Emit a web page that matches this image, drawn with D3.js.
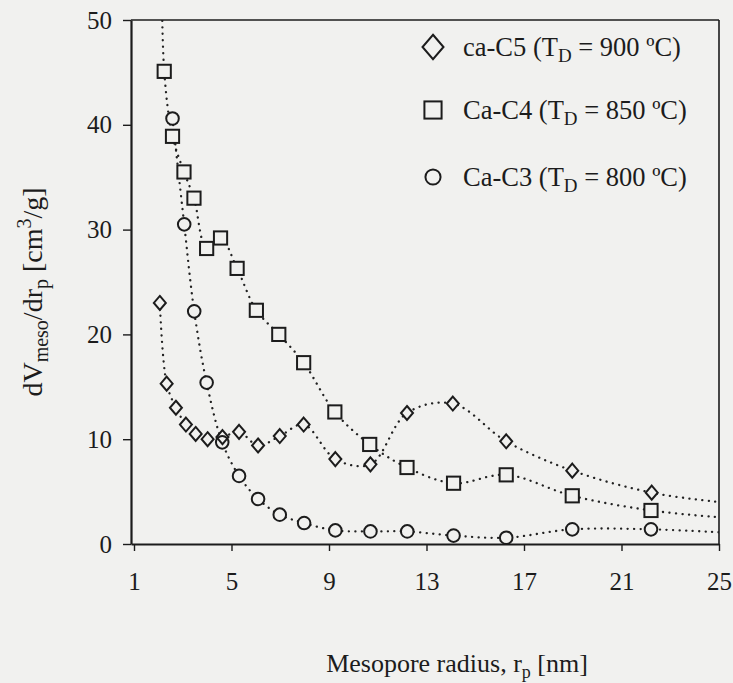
<!DOCTYPE html>
<html>
<head>
<meta charset="utf-8">
<script src="https://cdn.jsdelivr.net/npm/d3@7"></script>
<style>
  body { margin: 0; background: #f1f1ef; }
  text { font-family: "Liberation Serif", "Times New Roman", serif; fill: #1c1c1c; }
</style>
</head>
<body>
<svg id="chart" width="733" height="683"></svg>
<script>
// Pore size distributions (mesopore radius in nm, dV/dr in cm3/g per nm)
const rC5 = [2.06, 2.34, 2.72, 3.13, 3.53, 4.02, 4.63, 5.31, 6.09, 6.98, 7.96, 9.26, 10.70, 12.20, 14.08, 16.27, 18.98, 22.24];
const vC5 = [23.0, 15.3, 13.0, 11.4, 10.5, 10.0, 10.2, 10.7, 9.4, 10.3, 11.4, 8.1, 7.6, 12.5, 13.4, 9.8, 7.0, 4.9];
const rC4 = [2.24, 2.58, 3.05, 3.46, 3.98, 4.55, 5.23, 6.02, 6.94, 7.96, 9.24, 10.67, 12.20, 14.11, 16.27, 18.98, 22.21];
const vC4 = [45.1, 38.9, 35.5, 33.0, 28.2, 29.2, 26.3, 22.3, 20.0, 17.3, 12.6, 9.5, 7.3, 5.8, 6.6, 4.6, 3.2];
const rC3 = [2.58, 3.06, 3.47, 3.98, 4.62, 5.31, 6.09, 6.98, 7.98, 9.26, 10.70, 12.21, 14.11, 16.27, 18.98, 22.21];
const vC3 = [40.6, 30.5, 22.2, 15.4, 9.7, 6.5, 4.3, 2.8, 2.0, 1.3, 1.2, 1.2, 0.8, 0.6, 1.4, 1.4];

// Where the fitted curves leave the plotted range
const headR = [null, 2.12, null];
const headV = [null, 58, null];
const tailR = [25, 25, 25];
const tailV = [4.0, 2.55, 1.12];

const names = ["ca-C5", "Ca-C4", "Ca-C3"];
const temps = [900, 850, 800];
const shapes = ["diamond", "square", "circle"];

const xTicks = [1, 5, 9, 13, 17, 21, 25];
const yTicks = [0, 10, 20, 30, 40, 50];

const series = [
  { r: rC5, v: vC5 },
  { r: rC4, v: vC4 },
  { r: rC3, v: vC3 }
].map((s, i) => ({
  name: names[i],
  temp: temps[i],
  shape: shapes[i],
  points: s.r.map((r, j) => ({ r, v: s.v[j] })),
  curve: [
    ...(headR[i] != null ? [{ r: headR[i], v: headV[i] }] : []),
    ...s.r.map((r, j) => ({ r, v: s.v[j] })),
    { r: tailR[i], v: tailV[i] }
  ]
}));

const svg = d3.select("#chart");
const plotL = 131, plotR = 719, plotT = 20, plotB = 544;
const ink = "#1c1c1c";
const paper = "#f1f1ef";

const x = d3.scaleLinear().domain([0.877, 25]).range([plotL, plotR]);
const y = d3.scaleLinear().domain([0, 50]).range([plotB, plotT]);

svg.append("defs").append("clipPath").attr("id", "plotClip")
  .append("rect").attr("x", plotL).attr("y", plotT)
  .attr("width", plotR - plotL).attr("height", plotB - plotT);

// frame: top and right edges
svg.append("line").attr("x1", plotL).attr("x2", plotR).attr("y1", plotT).attr("y2", plotT)
  .attr("stroke", ink).attr("stroke-width", 1.6);
svg.append("line").attr("x1", plotR).attr("x2", plotR).attr("y1", plotT).attr("y2", plotB)
  .attr("stroke", ink).attr("stroke-width", 1.6);

// axes
const xAxis = svg.append("g").attr("transform", `translate(0,${plotB})`)
  .call(d3.axisBottom(x).tickValues(xTicks).tickFormat(d3.format("d"))
    .tickSize(7).tickSizeOuter(0).tickPadding(21));
const yAxis = svg.append("g").attr("transform", `translate(${plotL},0)`)
  .call(d3.axisLeft(y).tickValues(yTicks).tickFormat(d3.format("d"))
    .tickSize(8).tickSizeOuter(0).tickPadding(11));

[xAxis, yAxis].forEach(g => {
  g.select(".domain").attr("stroke", ink).attr("stroke-width", 2.2);
  g.selectAll(".tick line").attr("stroke", ink).attr("stroke-width", 1.4);
  g.selectAll(".tick text").attr("fill", ink)
    .style("font-family", '"Liberation Serif", "Times New Roman", serif')
    .style("font-size", "25px");
});

// dotted fitted curves
const line = d3.line().x(d => x(d.r)).y(d => y(d.v)).curve(d3.curveCatmullRom.alpha(0.5));
const curves = svg.append("g").attr("clip-path", "url(#plotClip)");
series.forEach(s => {
  curves.append("path").attr("d", line(s.curve))
    .attr("fill", "none").attr("stroke", "#222")
    .attr("stroke-width", 2.3).attr("stroke-linecap", "round")
    .attr("stroke-dasharray", "0.1 6.4");
});

// marker shapes
function marker(g, shape, cx, cy, k) {
  if (shape === "diamond") {
    const w = 6 * k, h = 7 * k;
    g.append("path").attr("d", `M${cx},${cy - h}L${cx + w},${cy}L${cx},${cy + h}L${cx - w},${cy}Z`);
  } else if (shape === "square") {
    const a = 6.6 * k;
    g.append("rect").attr("x", cx - a).attr("y", cy - a).attr("width", 2 * a).attr("height", 2 * a);
  } else {
    g.append("circle").attr("cx", cx).attr("cy", cy).attr("r", 6.3 * k);
  }
}

// markers: a paper-coloured fill pass hides the dotted curve inside each symbol,
// then an outline pass keeps overlapping symbols fully visible
const fills = svg.append("g").attr("fill", paper).attr("stroke", "none");
const outlines = svg.append("g").attr("fill", "none").attr("stroke", ink).attr("stroke-width", 2);
series.forEach(s => {
  s.points.forEach(p => {
    marker(fills, s.shape, x(p.r), y(p.v), 1);
    marker(outlines, s.shape, x(p.r), y(p.v), 1);
  });
});

// legend
const legendY = [47, 110, 177];
const legend = svg.append("g");
series.forEach((s, i) => {
  const g = legend.append("g").attr("fill", "none").attr("stroke", ink).attr("stroke-width", 2);
  const k = s.shape === "diamond" ? 1.75 : (s.shape === "square" ? 1.3 : 1.2);
  marker(g, s.shape, 433, legendY[i], k);
  const t = legend.append("text").attr("x", 463).attr("y", legendY[i] + 9)
    .style("font-size", "26.5px");
  t.append("tspan").text(`${s.name} (T`);
  t.append("tspan").attr("dy", 6).style("font-size", "19px").text("D");
  t.append("tspan").attr("dy", -6).text(` = ${s.temp} ºC)`);
});

// axis titles
const xt = svg.append("text").attr("x", 457).attr("y", 672)
  .attr("text-anchor", "middle").style("font-size", "26px");
xt.append("tspan").text("Mesopore radius, r");
xt.append("tspan").attr("dy", 6).style("font-size", "18px").text("p");
xt.append("tspan").attr("dy", -6).text(" [nm]");

const yt = svg.append("text").attr("transform", "translate(42,292) rotate(-90)")
  .attr("text-anchor", "middle").style("font-size", "28px");
yt.append("tspan").text("dV");
yt.append("tspan").attr("dy", 6).style("font-size", "20px").text("meso");
yt.append("tspan").attr("dy", -6).text("/dr");
yt.append("tspan").attr("dy", 6).style("font-size", "20px").text("p");
yt.append("tspan").attr("dy", -6).text(" [cm");
yt.append("tspan").attr("dy", -11).style("font-size", "20px").text("3");
yt.append("tspan").attr("dy", 11).text("/g]");
</script>
</body>
</html>
